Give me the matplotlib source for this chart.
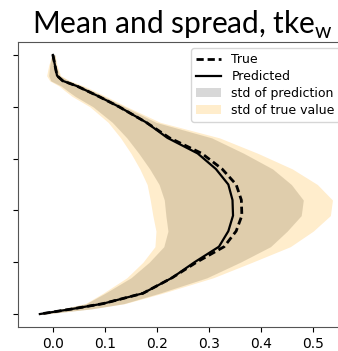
import matplotlib.pyplot as plt

plt.rcParams['mathtext.fontset'] = 'custom'
plt.rcParams['mathtext.rm'] = 'Lato'

# vertical levels (top of profile at 5, surface at 0)
levels = [5.0, 4.8, 4.6, 4.5, 4.4, 4.3, 4.2, 4.0, 3.7, 3.4, 3.1, 2.8, 2.5,
          2.2, 1.9, 1.6, 1.3, 1.0, 0.7, 0.4, 0.2, 0.1, 0.0]
mean_true = [0.000, 0.004, 0.008, 0.019, 0.046, 0.067, 0.088, 0.127, 0.179,
             0.224, 0.286, 0.325, 0.352, 0.362, 0.363, 0.352, 0.329, 0.276,
             0.229, 0.173, 0.096, 0.038, -0.025]
mean_pred = [0.000, 0.004, 0.008, 0.019, 0.046, 0.067, 0.088, 0.127, 0.179,
             0.220, 0.278, 0.313, 0.337, 0.345, 0.346, 0.337, 0.319, 0.272,
             0.229, 0.173, 0.096, 0.038, -0.025]

# edges of the +/- std bands
true_lower = [-0.002, -0.008, -0.012, -0.006, 0.012, 0.024, 0.037, 0.071, 0.106,
              0.130, 0.150, 0.167, 0.181, 0.187, 0.192, 0.198, 0.196, 0.173,
              0.142, 0.096, 0.062, 0.017, -0.029]
true_upper = [0.004, 0.008, 0.015, 0.033, 0.060, 0.081, 0.102, 0.142, 0.206,
              0.320, 0.394, 0.460, 0.508, 0.537, 0.533, 0.500, 0.456, 0.383,
              0.308, 0.210, 0.138, 0.075, -0.015]
pred_lower = [-0.002, -0.006, -0.008, -0.004, 0.016, 0.029, 0.043, 0.077, 0.114,
              0.142, 0.165, 0.186, 0.204, 0.214, 0.217, 0.221, 0.213, 0.185,
              0.150, 0.100, 0.064, 0.018, -0.029]
pred_upper = [0.004, 0.006, 0.013, 0.031, 0.056, 0.077, 0.098, 0.138, 0.198,
              0.305, 0.367, 0.422, 0.458, 0.481, 0.477, 0.450, 0.418, 0.360,
              0.296, 0.204, 0.136, 0.074, -0.015]

fig = plt.figure(figsize=(3.38, 3.51), dpi=100)
ax = fig.add_axes([18 / 338, 24 / 351, 328 / 338, 285 / 351])

ax.plot(mean_true, levels, color='black', linestyle='--', dashes=(2.6, 1.4),
        linewidth=2.0, label='True')
ax.plot(mean_pred, levels, color='black', linewidth=1.6, label='Predicted')
ax.fill_betweenx(levels, pred_lower, pred_upper, color='grey', alpha=0.3,
                 linewidth=0, label='std of prediction')
ax.fill_betweenx(levels, true_lower, true_upper, color='orange', alpha=0.2,
                 linewidth=0, label='std of true value')

ax.set_xlim(-0.067, 0.563)
ax.set_ylim(-0.25, 5.25)
ax.set_xticks([0.0, 0.1, 0.2, 0.3, 0.4, 0.5])
ax.set_yticks([0, 1, 2, 3, 4, 5])
ax.set_yticklabels([])
ax.tick_params(labelsize=10)
for sp in ax.spines.values():
    sp.set_color('#555555')

ax.set_title('Mean and spread, tke$_\\mathregular{w}$', fontsize=21.5, family='Lato')
ax.legend(loc='upper right', fontsize=9, labelspacing=0.3)

fig.savefig('out.png', dpi=100)
